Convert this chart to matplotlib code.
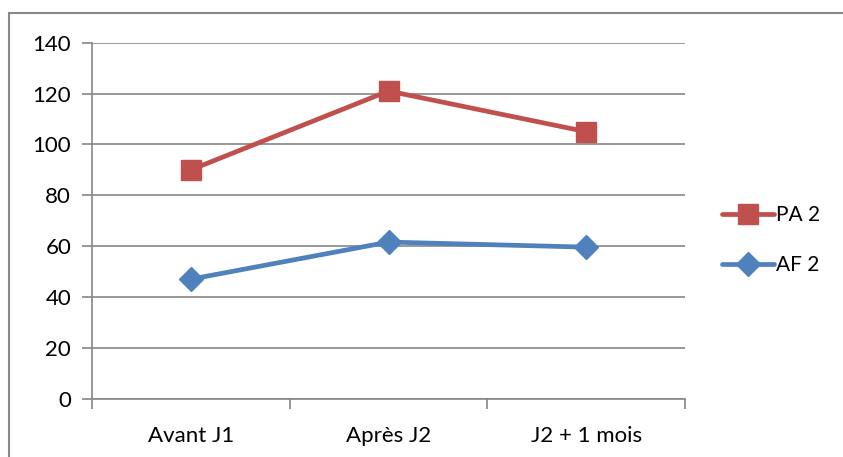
import matplotlib.pyplot as plt
from matplotlib.patches import Rectangle

categories = ["Avant J1", "Après J2", "J2 + 1 mois"]
pa2 = [90, 121, 105]
af2 = [47, 61.6, 59.6]
yticks = [0, 20, 40, 60, 80, 100, 120, 140]

plt.rcParams['font.family'] = ['Lato', 'DejaVu Sans']

fig = plt.figure(figsize=(8.43, 4.57), dpi=100)
ax = fig.add_axes([92/843, 1 - 398.7/457, 593/843, 356/457])

x = range(len(categories))
ax.plot(x, pa2, color='#C0504D', lw=3.4, marker='s', ms=14, label='PA 2', solid_capstyle='round')
ax.plot(x, af2, color='#4F81BD', lw=3.4, marker='D', ms=12, label='AF 2', solid_capstyle='round')

ax.set_xlim(-0.5, 2.5)
ax.set_ylim(0, 140)
ax.set_yticks(yticks)
ax.set_xticks(x)
ax.set_xticklabels(categories)
ax.set_xticks([-0.5, 0.5, 1.5, 2.5], minor=True)
ax.tick_params(axis='x', which='major', length=0, pad=20, labelsize=16)
ax.tick_params(axis='x', which='minor', length=7, color='#868686', width=1.2)
ax.tick_params(axis='y', length=7, color='#868686', width=1.2, labelsize=16, pad=8)

ax.yaxis.grid(True, color='#868686', lw=1.2)
ax.set_axisbelow(True)
for s in ['top', 'right']:
    ax.spines[s].set_visible(False)
for s in ['left', 'bottom']:
    ax.spines[s].set_color('#868686')
    ax.spines[s].set_linewidth(1.2)

ax.legend(loc='center left', bbox_to_anchor=(722/843, 1 - 240/457), bbox_transform=fig.transFigure,
          frameon=False, fontsize=15, handlelength=2.5, handletextpad=0.1, labelspacing=1.45,
          borderpad=0, borderaxespad=0)

fig.patches.append(Rectangle((9/843, -0.1), 1.1, 1 - 13/457 + 0.1, transform=fig.transFigure,
                             fill=False, edgecolor='#888888', lw=1.5))

fig.savefig('out.png', dpi=100)
